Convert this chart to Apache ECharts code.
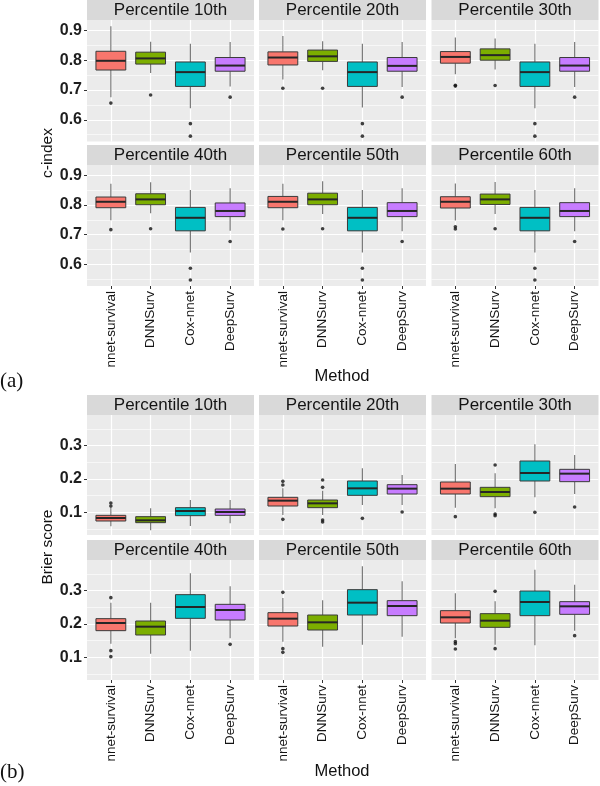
<!DOCTYPE html>
<html>
<head>
<meta charset="utf-8">
<script src="https://cdn.jsdelivr.net/npm/echarts@6/dist/echarts.min.js"></script>
<style>
html,body{margin:0;padding:0;background:#fff;}
#chart{width:600px;height:786px;}
</style>
</head>
<body>
<div id="chart"></div>
<script>
// ---------- data ----------
const methods = ['nnet-survival', 'DNNSurv', 'Cox-nnet', 'DeepSurv'];
const panelTitles = ['Percentile 10th', 'Percentile 20th', 'Percentile 30th', 'Percentile 40th', 'Percentile 50th', 'Percentile 60th'];
const cindexTicks = [0.6, 0.7, 0.8, 0.9];
const brierTicks = [0.1, 0.2, 0.3];

// box stats per method: [lower whisker, Q1, median, Q3, upper whisker]
const cindexP10 = [[0.676, 0.767, 0.798, 0.830, 0.914], [0.757, 0.787, 0.806, 0.827, 0.862], [0.639, 0.712, 0.760, 0.794, 0.855], [0.712, 0.763, 0.782, 0.809, 0.861]];
const cindexP20 = [[0.735, 0.784, 0.809, 0.828, 0.881], [0.766, 0.796, 0.813, 0.834, 0.864], [0.641, 0.712, 0.760, 0.794, 0.855], [0.710, 0.763, 0.781, 0.809, 0.861]];
const cindexP30 = [[0.753, 0.790, 0.811, 0.829, 0.876], [0.769, 0.800, 0.817, 0.838, 0.873], [0.639, 0.712, 0.760, 0.794, 0.855], [0.710, 0.763, 0.782, 0.809, 0.861]];
const cindexP40 = [[0.749, 0.791, 0.811, 0.827, 0.872], [0.772, 0.801, 0.819, 0.838, 0.877], [0.640, 0.713, 0.757, 0.792, 0.851], [0.713, 0.761, 0.780, 0.807, 0.857]];
const cindexP50 = [[0.749, 0.791, 0.811, 0.829, 0.872], [0.770, 0.801, 0.819, 0.840, 0.880], [0.640, 0.713, 0.757, 0.792, 0.851], [0.712, 0.761, 0.780, 0.808, 0.857]];
const cindexP60 = [[0.748, 0.790, 0.811, 0.828, 0.873], [0.770, 0.802, 0.819, 0.837, 0.878], [0.640, 0.713, 0.757, 0.792, 0.851], [0.712, 0.761, 0.780, 0.808, 0.857]];

// outliers: [method number (1-4), value]
const cindexOutP10 = [[1, 0.656], [2, 0.683], [3, 0.587], [3, 0.545], [4, 0.676]];
const cindexOutP20 = [[1, 0.706], [2, 0.706], [3, 0.587], [3, 0.545], [4, 0.676]];
const cindexOutP30 = [[1, 0.716], [1, 0.713], [2, 0.715], [3, 0.587], [3, 0.545], [4, 0.676]];
const cindexOutP40 = [[1, 0.717], [2, 0.720], [3, 0.587], [3, 0.547], [4, 0.677]];
const cindexOutP50 = [[1, 0.719], [2, 0.720], [3, 0.587], [3, 0.547], [4, 0.677]];
const cindexOutP60 = [[1, 0.727], [1, 0.719], [2, 0.720], [3, 0.587], [3, 0.547], [4, 0.677]];

const brierP10 = [[0.058, 0.074, 0.083, 0.091, 0.115], [0.046, 0.069, 0.076, 0.087, 0.112], [0.059, 0.090, 0.104, 0.114, 0.137], [0.067, 0.091, 0.101, 0.110, 0.137]];
const brierP20 = [[0.092, 0.119, 0.135, 0.145, 0.172], [0.092, 0.114, 0.127, 0.137, 0.165], [0.122, 0.151, 0.172, 0.194, 0.232], [0.122, 0.155, 0.171, 0.183, 0.212]];
const brierP30 = [[0.114, 0.155, 0.171, 0.191, 0.245], [0.112, 0.147, 0.161, 0.175, 0.217], [0.145, 0.194, 0.218, 0.254, 0.304], [0.155, 0.192, 0.216, 0.229, 0.272]];
const brierP40 = [[0.141, 0.180, 0.203, 0.216, 0.264], [0.111, 0.167, 0.192, 0.209, 0.264], [0.120, 0.217, 0.251, 0.288, 0.352], [0.157, 0.212, 0.242, 0.259, 0.313]];
const brierP50 = [[0.147, 0.194, 0.216, 0.234, 0.278], [0.132, 0.182, 0.205, 0.227, 0.271], [0.138, 0.227, 0.264, 0.303, 0.373], [0.162, 0.225, 0.254, 0.270, 0.328]];
const brierP60 = [[0.157, 0.203, 0.220, 0.240, 0.292], [0.138, 0.190, 0.210, 0.231, 0.268], [0.136, 0.225, 0.266, 0.299, 0.363], [0.180, 0.229, 0.253, 0.267, 0.318]];

const brierOutP10 = [[1, 0.119], [1, 0.128]];
const brierOutP20 = [[1, 0.182], [1, 0.193], [1, 0.079], [2, 0.175], [2, 0.197], [2, 0.077], [2, 0.071], [3, 0.082], [4, 0.101]];
const brierOutP30 = [[1, 0.087], [2, 0.242], [2, 0.095], [2, 0.090], [3, 0.100], [4, 0.116]];
const brierOutP40 = [[1, 0.279], [1, 0.120], [1, 0.102], [4, 0.139]];
const brierOutP50 = [[1, 0.295], [1, 0.126], [1, 0.115]];
const brierOutP60 = [[1, 0.147], [1, 0.141], [1, 0.125], [2, 0.298], [2, 0.126], [4, 0.165]];

const cindexStats = [cindexP10, cindexP20, cindexP30, cindexP40, cindexP50, cindexP60];
const cindexOuts = [cindexOutP10, cindexOutP20, cindexOutP30, cindexOutP40, cindexOutP50, cindexOutP60];
const brierStats = [brierP10, brierP20, brierP30, brierP40, brierP50, brierP60];
const brierOuts = [brierOutP10, brierOutP20, brierOutP30, brierOutP40, brierOutP50, brierOutP60];

// ---------- layout / style ----------
const fillColors = ['#F8766D', '#7CAE00', '#00BFC4', '#C77CFF'];
const FONT = '"Liberation Sans", Arial, sans-serif';
const colLeft = [87, 259, 431.5];
const colWidth = 167;
const blocks = [
  { rows: [{ top: 20, h: 121.5 }, { top: 165, h: 121 }], min: 0.527, max: 0.935, ticks: cindexTicks, stats: cindexStats, outs: cindexOuts },
  { rows: [{ top: 415, h: 120 }, { top: 560, h: 120 }], min: 0.032, max: 0.392, ticks: brierTicks, stats: brierStats, outs: brierOuts }
];

function renderBox(params, api) {
  const x = api.value(0);
  const lo = api.coord([x, api.value(1)]);
  const q1 = api.coord([x, api.value(2)]);
  const md = api.coord([x, api.value(3)]);
  const q3 = api.coord([x, api.value(4)]);
  const hi = api.coord([x, api.value(5)]);
  const bw = api.size([0.75, 0])[0];
  const cx = lo[0];
  const wStyle = { stroke: '#7a7a7a', lineWidth: 1.2 };
  return {
    type: 'group',
    children: [
      { type: 'line', shape: { x1: cx, y1: hi[1], x2: cx, y2: q3[1] }, style: wStyle },
      { type: 'line', shape: { x1: cx, y1: q1[1], x2: cx, y2: lo[1] }, style: wStyle },
      { type: 'rect', shape: { x: cx - bw / 2, y: q3[1], width: bw, height: q1[1] - q3[1] },
        style: { fill: fillColors[Math.round(x) - 1], stroke: '#3a3a3a', lineWidth: 1 } },
      { type: 'line', shape: { x1: cx - bw / 2, y1: md[1], x2: cx + bw / 2, y2: md[1] },
        style: { stroke: '#262626', lineWidth: 2 } }
    ]
  };
}

const grids = [], xAxes = [], yAxes = [], series = [], graphics = [];
let gi = 0;
blocks.forEach((blk, b) => {
  blk.rows.forEach((row, r) => {
    for (let c = 0; c < 3; c++) {
      const p = r * 3 + c;
      grids.push({ left: colLeft[c], top: row.top, width: colWidth, height: row.h,
        show: true, backgroundColor: '#EBEBEB', borderWidth: 0, containLabel: false });
      const bottomRow = r === 1;
      xAxes.push({
        type: 'value', gridIndex: gi, min: 0.4, max: 4.6, minInterval: 1, maxInterval: 1,
        axisLine: { show: false },
        axisTick: { show: bottomRow, customValues: [1, 2, 3, 4], length: 3, lineStyle: { color: '#333', width: 1 } },
        axisLabel: { show: bottomRow, customValues: [1, 2, 3, 4], rotate: 90, margin: 5,
          fontFamily: FONT, fontSize: 13.5, color: '#141414',
          formatter: v => methods[Math.round(v) - 1] || '' },
        splitLine: { show: true, lineStyle: { color: '#ffffff', width: 1.2 } },
        minorSplitLine: { show: false }
      });
      yAxes.push({
        type: 'value', gridIndex: gi, min: blk.min, max: blk.max, minInterval: 0.1, maxInterval: 0.1,
        axisLine: { show: false },
        axisTick: { show: c === 0, customValues: blk.ticks, length: 3, lineStyle: { color: '#333', width: 1 } },
        axisLabel: { show: c === 0, customValues: blk.ticks, margin: 5, fontFamily: FONT,
          fontSize: 16, fontWeight: 'bold', color: '#1e1e1e', formatter: v => v.toFixed(1) },
        splitLine: { show: true, lineStyle: { color: '#ffffff', width: 1.2 } },
        minorTick: { show: false, splitNumber: 2 },
        minorSplitLine: { show: true, lineStyle: { color: '#ffffff', width: 0.6 } }
      });
      series.push({
        type: 'custom', xAxisIndex: gi, yAxisIndex: gi, renderItem: renderBox,
        encode: { x: 0, y: [1, 2, 3, 4, 5] }, clip: false,
        data: blk.stats[p].map((s, i) => [i + 1].concat(s))
      });
      series.push({
        type: 'scatter', xAxisIndex: gi, yAxisIndex: gi, symbol: 'circle', symbolSize: 3.6,
        itemStyle: { color: '#111' }, z: 5,
        data: blk.outs[p]
      });
      // strip
      graphics.push({ type: 'rect', left: colLeft[c], top: row.top - 20,
        shape: { width: colWidth, height: 20 }, style: { fill: '#D9D9D9' }, silent: true });
      graphics.push({ type: 'text', x: colLeft[c] + colWidth / 2, y: row.top - 10,
        style: { text: panelTitles[p], font: '17px ' + FONT, fill: '#141414', textAlign: 'center', textVerticalAlign: 'middle' }, silent: true });
      gi++;
    }
  });
});

// axis titles and labels
graphics.push({ type: 'text', x: 342, y: 376, style: { text: 'Method', font: '16.5px ' + FONT, fill: '#111', textAlign: 'center', textVerticalAlign: 'middle' } });
graphics.push({ type: 'text', x: 342, y: 771, style: { text: 'Method', font: '16.5px ' + FONT, fill: '#111', textAlign: 'center', textVerticalAlign: 'middle' } });
graphics.push({ type: 'text', x: 48, y: 153, rotation: Math.PI / 2, style: { text: 'c-index', font: '15.5px ' + FONT, fill: '#111', textAlign: 'center', textVerticalAlign: 'middle' } });
graphics.push({ type: 'text', x: 48, y: 547, rotation: Math.PI / 2, style: { text: 'Brier score', font: '15.5px ' + FONT, fill: '#111', textAlign: 'center', textVerticalAlign: 'middle' } });
graphics.push({ type: 'text', x: 0, y: 381, style: { text: '(a)', font: '21px "Liberation Serif", "Times New Roman", serif', fill: '#111', textAlign: 'left', textVerticalAlign: 'middle' } });
graphics.push({ type: 'text', x: 0, y: 772, style: { text: '(b)', font: '21px "Liberation Serif", "Times New Roman", serif', fill: '#111', textAlign: 'left', textVerticalAlign: 'middle' } });

const chart = echarts.init(document.getElementById('chart'), null, { renderer: 'canvas' });
chart.setOption({
  animation: false,
  backgroundColor: '#ffffff',
  grid: grids,
  xAxis: xAxes,
  yAxis: yAxes,
  series: series,
  graphic: graphics
});
</script>
</body>
</html>
